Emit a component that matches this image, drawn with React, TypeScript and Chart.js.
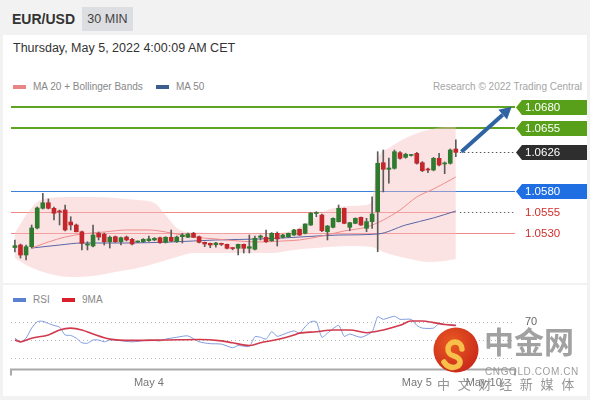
import React, { useEffect, useRef } from 'react';
import { Chart, registerables } from 'chart.js';

Chart.register(...registerables);

// ---------------- data (30-min EUR/USD candles, index 0..79) ----------------
const opens = [
  1.05127, 1.05157, 1.05038, 1.05137, 1.0536, 1.05594, 1.0566, 1.05594, 1.05562, 1.05574,
  1.05431, 1.05395, 1.05315, 1.05157, 1.05145, 1.05296, 1.05285, 1.05196, 1.05256, 1.05196,
  1.05252, 1.05225, 1.05193, 1.05196, 1.05208, 1.05217, 1.05244, 1.05189, 1.05249, 1.05196,
  1.05256, 1.05249, 1.05296, 1.05256, 1.05189, 1.05177, 1.0516, 1.05177, 1.05165, 1.05121,
  1.05118, 1.05165, 1.05118, 1.05106, 1.05249, 1.05249, 1.05208, 1.05296, 1.05249, 1.05256,
  1.05276, 1.05344, 1.05296, 1.05395, 1.05532, 1.05514, 1.05315, 1.05368, 1.05435, 1.05594,
  1.05368, 1.05415, 1.05487, 1.05356, 1.05435, 1.05554, 1.06137, 1.06058, 1.0607, 1.06256,
  1.06201, 1.06223, 1.06248, 1.06137, 1.06062, 1.0605, 1.06189, 1.06122, 1.0613, 1.063,
];
const highs = [
  1.05217, 1.05169, 1.05157, 1.05395, 1.0561, 1.05772, 1.05705, 1.0561, 1.05574, 1.05633,
  1.05494, 1.05407, 1.05324, 1.05196, 1.05395, 1.05312, 1.053, 1.05264, 1.05264, 1.05252,
  1.05264, 1.05237, 1.05205, 1.05233, 1.05264, 1.05245, 1.05252, 1.05256, 1.05336, 1.05264,
  1.05296, 1.053, 1.05308, 1.05264, 1.05193, 1.05181, 1.0519, 1.0518, 1.05169, 1.05125,
  1.05169, 1.05169, 1.05276, 1.05264, 1.05276, 1.05336, 1.05305, 1.05312, 1.05285, 1.053,
  1.05345, 1.05348, 1.0541, 1.05545, 1.05554, 1.05525, 1.0539, 1.0548, 1.05633, 1.05598,
  1.05427, 1.0548, 1.0549, 1.05475, 1.05732, 1.06268, 1.06288, 1.06193, 1.06288, 1.0627,
  1.0625, 1.06235, 1.0626, 1.0615, 1.06074, 1.062, 1.06248, 1.06146, 1.063, 1.06408,
];
const lows = [
  1.05074, 1.05002, 1.04979, 1.05121, 1.05348, 1.05586, 1.05586, 1.05455, 1.05395, 1.05324,
  1.05336, 1.05312, 1.05098, 1.05098, 1.05133, 1.05217, 1.05157, 1.05121, 1.05188, 1.05157,
  1.05205, 1.05157, 1.05187, 1.05188, 1.052, 1.05208, 1.05177, 1.05181, 1.05196, 1.05188,
  1.05181, 1.05245, 1.05245, 1.05181, 1.05137, 1.05125, 1.0513, 1.0515, 1.0511, 1.051,
  1.05038, 1.05062, 1.05062, 1.051, 1.05217, 1.05188, 1.052, 1.05145, 1.0524, 1.0525,
  1.0527, 1.0527, 1.0529, 1.0539, 1.05494, 1.05315, 1.05217, 1.0536, 1.0543, 1.0541,
  1.05327, 1.0541, 1.0539, 1.05315, 1.05356, 1.05077, 1.05789, 1.05892, 1.0606, 1.0618,
  1.0619, 1.06215, 1.0612, 1.0603, 1.06018, 1.0604, 1.061, 1.06006, 1.0612, 1.06208,
];
const closes = [
  1.05149, 1.05038, 1.05137, 1.0536, 1.05598, 1.0566, 1.05594, 1.05535, 1.0555, 1.05336,
  1.05395, 1.05315, 1.05177, 1.05169, 1.05276, 1.05252, 1.05196, 1.05249, 1.05196, 1.05244,
  1.05217, 1.05169, 1.05199, 1.05225, 1.05229, 1.05237, 1.05185, 1.05249, 1.05205, 1.05252,
  1.05276, 1.05288, 1.05249, 1.05189, 1.05169, 1.05157, 1.0518, 1.05165, 1.05118, 1.05115,
  1.05165, 1.05118, 1.05137, 1.05237, 1.05264, 1.05196, 1.05296, 1.05229, 1.05276, 1.05296,
  1.05336, 1.05276, 1.05407, 1.05535, 1.05542, 1.05327, 1.05383, 1.05475, 1.05594, 1.05415,
  1.05423, 1.05475, 1.05395, 1.05435, 1.05526, 1.0613, 1.06058, 1.06074, 1.06268, 1.06189,
  1.06237, 1.06229, 1.0613, 1.06042, 1.0605, 1.06189, 1.0611, 1.0613, 1.06288, 1.0626,
];

const ma20Idx = [3, 6, 9, 12, 16, 20, 24, 28, 32, 36, 40, 44, 48, 51, 55, 59, 63, 66, 69, 72, 75, 79];
const ma20Vals = [1.05121, 1.05193, 1.05252, 1.05288, 1.05312, 1.05336, 1.05336, 1.053, 1.05252, 1.05229, 1.05205, 1.05193, 1.05205, 1.05217, 1.05264, 1.05324, 1.05371, 1.05455, 1.05574, 1.05729, 1.05824, 1.05967];

const ma50Idx = [3, 8, 12, 20, 28, 36, 44, 51, 58, 65, 70, 75, 79];
const ma50Vals = [1.05121, 1.05157, 1.05181, 1.05181, 1.05193, 1.05217, 1.05229, 1.05252, 1.05276, 1.05288, 1.05395, 1.05479, 1.05562];

const bandUpIdx = [0, 2, 4, 6, 10, 14, 18, 22, 25, 27, 29, 31, 40, 46, 50, 53, 56, 60, 63, 64, 65, 67, 70, 74, 77, 79];
const bandUpVals = [1.053, 1.05514, 1.05669, 1.05717, 1.05729, 1.05729, 1.05717, 1.05693, 1.05657, 1.05514, 1.0536, 1.05312, 1.053, 1.053, 1.05336, 1.05455, 1.05574, 1.05621, 1.05633, 1.05693, 1.06171, 1.06312, 1.06431, 1.06526, 1.06562, 1.06562];

const bandLoIdx = [0, 2, 4, 7, 10, 14, 18, 22, 26, 29, 32, 40, 46, 50, 54, 60, 64, 66, 70, 74, 77, 79];
const bandLoVals = [1.05002, 1.04919, 1.0486, 1.048, 1.04776, 1.04788, 1.04836, 1.04883, 1.04955, 1.05014, 1.05062, 1.05062, 1.05062, 1.05098, 1.05121, 1.05145, 1.05133, 1.05074, 1.05002, 1.04955, 1.04967, 1.0499];

const levelValues = [1.068, 1.0655, 1.0626, 1.058, 1.0555, 1.053];
const levelLabels = ['1.0680', '1.0655', '1.0626', '1.0580', '1.0555', '1.0530'];

const arrowFrom = [80, 1.06268];
const arrowTo = [89, 1.06804];

const rsiIdx = [0, 1, 2, 3, 4, 5, 6, 7, 8, 9, 10, 11, 12, 13, 14, 15, 16, 17, 18, 21, 24, 26, 27, 29, 31, 33, 35, 37, 39, 40, 42, 43, 44, 45, 46, 47, 48, 50, 51, 52, 53, 54, 55, 56, 58, 59, 60, 62, 64, 65, 66, 68, 69, 71, 72, 73, 75, 76, 77, 79];
const rsiVals = [52, 48, 52, 63, 70, 70.5, 68, 66, 64, 55.5, 55, 52, 47, 46.5, 50, 50, 48, 50, 50, 48, 50, 49, 51, 53, 54.5, 48, 46, 45.5, 41.5, 44, 43, 53.6, 53, 51, 59, 54, 56, 60, 57.5, 64.5, 70, 70, 53, 57.5, 66, 54, 56.5, 53, 59, 75.5, 72.6, 76, 72.6, 72.6, 66, 63, 63, 68, 67, 66];

const ma9Idx = [0, 1, 3, 6, 8, 10, 12, 14, 17, 21, 27, 33, 37, 39, 42, 44, 47, 50, 51, 54, 57, 60, 63, 66, 69, 71, 73, 75, 77, 79];
const ma9Vals = [50, 48, 52, 55.5, 61, 63, 61, 56.5, 51, 49.6, 50, 50.5, 49, 47, 44, 47, 50.5, 55.5, 57.5, 59, 61, 61, 58, 61, 66, 70.7, 70.7, 69, 67, 66];

const rsiLevels = [70, 50, 30];
const rsiLevelLabels = ['70'];

const dateTicks = [24, 72, 84];
const dateLabels = ['May 4', 'May 5', 'May 10'];

// ---------------- styles ----------------
const X_MIN = -0.7;
const X_MAX = 89.6;
const FONT = '"Liberation Sans", Arial, sans-serif';
const UP = '#2e7b30';
const DOWN = '#c4272b';
const WICK = '#5c5c5c';

type LevelStyle = { line?: string; width?: number; solidToLast?: boolean; dotted?: string; box?: string; text: string };
const levelStyles: LevelStyle[] = [
  { line: '#5ea322', width: 2, box: '#58a01a', text: '#ffffff' },
  { line: '#5ea322', width: 2, box: '#58a01a', text: '#ffffff' },
  { dotted: '#555555', box: '#2e2e2e', text: '#ffffff' },
  { line: '#3a80dc', width: 1, box: '#1f6fe3', text: '#ffffff' },
  { line: '#f08a8a', width: 1, solidToLast: true, dotted: '#666666', text: '#d0302c' },
  { line: '#f08a8a', width: 1, text: '#d0302c' },
];

const pts = (xs: number[], ys: number[]) => xs.map((x, i) => ({ x, y: ys[i] }));

const levelPlugin = {
  id: 'levels',
  beforeDatasetsDraw(chart: any) {
    const { ctx, chartArea: ca, scales } = chart;
    const x = scales.x;
    const y = scales.y;
    const lastX = x.getPixelForValue(opens.length - 1);
    ctx.save();
    levelValues.forEach((v, i) => {
      const st = levelStyles[i];
      const w = st.width || 1;
      const py = Math.round(y.getPixelForValue(v)) + (w % 2 ? 0.5 : 0);
      if (st.line) {
        ctx.setLineDash([]);
        ctx.strokeStyle = st.line;
        ctx.lineWidth = w;
        ctx.beginPath();
        ctx.moveTo(ca.left, py);
        ctx.lineTo(st.solidToLast ? lastX : ca.right, py);
        ctx.stroke();
      }
    });
    ctx.restore();
  },
  afterDraw(chart: any) {
    const { ctx, chartArea: ca, scales } = chart;
    const x = scales.x;
    const y = scales.y;
    const lastX = x.getPixelForValue(opens.length - 1);
    ctx.save();
    levelValues.forEach((v, i) => {
      const st = levelStyles[i];
      const py = Math.round(y.getPixelForValue(v)) + 0.5;
      if (st.dotted) {
        ctx.strokeStyle = st.dotted;
        ctx.lineWidth = 1;
        ctx.setLineDash([1.5, 2.5]);
        ctx.beginPath();
        ctx.moveTo(lastX + 4, py);
        ctx.lineTo(ca.right, py);
        ctx.stroke();
        ctx.setLineDash([]);
      }
      const bx = ca.right;
      if (st.box) {
        ctx.fillStyle = st.box;
        ctx.beginPath();
        ctx.moveTo(bx + 1, py);
        ctx.lineTo(bx + 7, py - 7.5);
        ctx.lineTo(bx + 72, py - 7.5);
        ctx.lineTo(bx + 72, py + 7.5);
        ctx.lineTo(bx + 7, py + 7.5);
        ctx.closePath();
        ctx.fill();
      }
      ctx.fillStyle = st.text;
      ctx.font = '11.5px ' + FONT;
      ctx.textAlign = 'left';
      ctx.textBaseline = 'middle';
      ctx.fillText(levelLabels[i], bx + 10, py + 0.5);
    });
    // trend arrow
    const x0 = x.getPixelForValue(arrowFrom[0]);
    const y0 = y.getPixelForValue(arrowFrom[1]);
    const x1 = x.getPixelForValue(arrowTo[0]);
    const y1 = y.getPixelForValue(arrowTo[1]);
    const ang = Math.atan2(y1 - y0, x1 - x0);
    const head = 12;
    const hw = 6.5;
    const bxp = x1 - head * Math.cos(ang);
    const byp = y1 - head * Math.sin(ang);
    ctx.strokeStyle = '#2f63a3';
    ctx.fillStyle = '#2f63a3';
    ctx.lineWidth = 4;
    ctx.lineCap = 'butt';
    ctx.beginPath();
    ctx.moveTo(x0, y0);
    ctx.lineTo(bxp, byp);
    ctx.stroke();
    ctx.beginPath();
    ctx.moveTo(x1, y1);
    ctx.lineTo(bxp + hw * Math.sin(ang), byp - hw * Math.cos(ang));
    ctx.lineTo(bxp - hw * Math.sin(ang), byp + hw * Math.cos(ang));
    ctx.closePath();
    ctx.fill();
    ctx.restore();
  },
};

const rsiPlugin = {
  id: 'rsiDecor',
  beforeDatasetsDraw(chart: any) {
    const { ctx, chartArea: ca, scales } = chart;
    ctx.save();
    ctx.strokeStyle = '#b8b8b8';
    ctx.lineWidth = 1;
    ctx.setLineDash([1, 3]);
    rsiLevels.forEach((v) => {
      const py = Math.round(scales.y.getPixelForValue(v)) + 0.5;
      ctx.beginPath();
      ctx.moveTo(ca.left, py);
      ctx.lineTo(ca.right, py);
      ctx.stroke();
    });
    ctx.restore();
  },
  afterDraw(chart: any) {
    const { ctx, chartArea: ca, scales } = chart;
    ctx.save();
    ctx.font = '11px ' + FONT;
    ctx.fillStyle = '#666666';
    ctx.textAlign = 'left';
    ctx.textBaseline = 'middle';
    rsiLevelLabels.forEach((t, i) => {
      ctx.fillText(t, ca.right + 10, scales.y.getPixelForValue(rsiLevels[i]));
    });
    // x axis
    ctx.strokeStyle = '#aaaaaa';
    ctx.lineWidth = 2;
    const ay = ca.bottom + 0.5;
    ctx.beginPath();
    ctx.moveTo(ca.left, ay + 6);
    ctx.lineTo(ca.left, ay);
    ctx.lineTo(ca.right, ay);
    ctx.lineTo(ca.right, ay + 6);
    ctx.stroke();
    ctx.fillStyle = '#777777';
    ctx.textAlign = 'center';
    dateTicks.forEach((t, i) => {
      ctx.fillText(dateLabels[i], scales.x.getPixelForValue(t), ca.bottom + 14);
    });
    ctx.restore();
  },
};

export default function App() {
  const mainRef = useRef<HTMLCanvasElement>(null);
  const rsiRef = useRef<HTMLCanvasElement>(null);

  useEffect(() => {
    const idx = opens.map((_, i) => i);
    const main = new Chart(mainRef.current as HTMLCanvasElement, {
      type: 'bar',
      data: {
        datasets: [
          {
            type: 'bar',
            label: 'body',
            data: idx.map((i) => ({ x: i, y: [opens[i], closes[i]] })) as any,
            backgroundColor: idx.map((i) => (closes[i] >= opens[i] ? UP : DOWN)),
            borderWidth: 0,
            barThickness: 4,
            minBarLength: 1,
            grouped: false,
            order: 1,
          } as any,
          {
            type: 'bar',
            label: 'wick',
            data: idx.map((i) => ({ x: i, y: [lows[i], highs[i]] })) as any,
            backgroundColor: WICK,
            borderWidth: 0,
            barThickness: 1,
            grouped: false,
            order: 2,
          } as any,
          {
            type: 'line',
            label: 'MA 20',
            data: pts(ma20Idx, ma20Vals),
            borderColor: '#ef8b8b',
            borderWidth: 1,
            pointRadius: 0,
            cubicInterpolationMode: 'monotone',
            fill: false,
            order: 3,
          } as any,
          {
            type: 'line',
            label: 'MA 50',
            data: pts(ma50Idx, ma50Vals),
            borderColor: '#5865a6',
            borderWidth: 1,
            pointRadius: 0,
            cubicInterpolationMode: 'monotone',
            fill: false,
            order: 4,
          } as any,
          {
            type: 'line',
            label: 'BB upper',
            data: pts(bandUpIdx, bandUpVals),
            borderWidth: 0,
            borderColor: 'rgba(0,0,0,0)',
            backgroundColor: 'rgba(248,188,188,0.42)',
            pointRadius: 0,
            cubicInterpolationMode: 'monotone',
            fill: '+1',
            order: 10,
          } as any,
          {
            type: 'line',
            label: 'BB lower',
            data: pts(bandLoIdx, bandLoVals),
            borderWidth: 0,
            borderColor: 'rgba(0,0,0,0)',
            pointRadius: 0,
            cubicInterpolationMode: 'monotone',
            fill: false,
            order: 11,
          } as any,
        ],
      },
      options: {
        responsive: false,
        animation: false,
        events: [],
        layout: { padding: { left: 11, right: 75, top: 0, bottom: 0 } },
        plugins: { legend: { display: false }, tooltip: { enabled: false } },
        scales: {
          x: { type: 'linear', min: X_MIN, max: X_MAX, display: false, offset: false },
          y: { type: 'linear', min: 1.047405, max: 1.069429, display: false },
        },
      } as any,
      plugins: [levelPlugin],
    });

    const rsi = new Chart(rsiRef.current as HTMLCanvasElement, {
      type: 'line',
      data: {
        datasets: [
          {
            label: 'RSI',
            data: pts(rsiIdx, rsiVals),
            borderColor: '#7f9be0',
            borderWidth: 1,
            pointRadius: 0,
            tension: 0.2,
            order: 2,
          },
          {
            label: '9MA',
            data: pts(ma9Idx, ma9Vals),
            borderColor: '#d13a4c',
            borderWidth: 1.6,
            pointRadius: 0,
            cubicInterpolationMode: 'monotone',
            order: 1,
          } as any,
        ],
      },
      options: {
        responsive: false,
        animation: false,
        events: [],
        layout: { padding: { left: 11, right: 75, top: 0, bottom: 26 } },
        plugins: { legend: { display: false }, tooltip: { enabled: false } },
        scales: {
          x: { type: 'linear', min: X_MIN, max: X_MAX, display: false },
          y: { type: 'linear', min: 18.31, max: 99.18, display: false },
        },
      } as any,
      plugins: [rsiPlugin],
    });

    return () => {
      main.destroy();
      rsi.destroy();
    };
  }, []);

  const abs = (s: React.CSSProperties): React.CSSProperties => ({ position: 'absolute', ...s });

  return (
    <div style={abs({ left: 0, top: 0, width: 590, height: 400, background: '#f2f2f2', fontFamily: FONT, overflow: 'hidden' })}>
      {/* header */}
      <div style={abs({ left: 12, top: 9, fontSize: 14, fontWeight: 'bold', color: '#333', lineHeight: '20px' })}>EUR/USD</div>
      <div style={abs({ left: 82, top: 7, width: 51, height: 24, background: '#dcdee1', color: '#444', fontSize: 12.5, lineHeight: '24px', textAlign: 'center' })}>30 MIN</div>

      {/* cards */}
      <div style={abs({ left: 3, top: 35, width: 584, height: 248, background: '#ffffff' })} />
      <div style={abs({ left: 3, top: 285, width: 584, height: 111, background: '#ffffff' })} />

      <div style={abs({ left: 13, top: 39, fontSize: 12.5, color: '#333', lineHeight: '18px' })}>Thursday, May 5, 2022 4:00:09 AM CET</div>

      {/* main legend */}
      <div style={abs({ left: 13, top: 85, width: 13, height: 4, background: '#ea8585' })} />
      <div style={abs({ left: 33, top: 80, fontSize: 10, color: '#888', lineHeight: '13px' })}>MA 20 + Bollinger Bands</div>
      <div style={abs({ left: 156, top: 85, width: 13, height: 4, background: '#3b5e8f' })} />
      <div style={abs({ left: 176, top: 80, fontSize: 10, color: '#888', lineHeight: '13px' })}>MA 50</div>
      <div style={abs({ right: 8, top: 80, fontSize: 10, color: '#a5a5a5', lineHeight: '13px' })}>Research © 2022 Trading Central</div>

      <canvas ref={mainRef} width={590} height={185} style={abs({ left: 0, top: 95, width: 590, height: 185, display: 'block' })} />

      {/* RSI legend */}
      <div style={abs({ left: 13, top: 298, width: 13, height: 4, background: '#5b82d0' })} />
      <div style={abs({ left: 33, top: 293, fontSize: 10, color: '#888', lineHeight: '13px' })}>RSI</div>
      <div style={abs({ left: 62, top: 298, width: 13, height: 4, background: '#d9202a' })} />
      <div style={abs({ left: 82, top: 293, fontSize: 10, color: '#888', lineHeight: '13px' })}>9MA</div>

      <canvas ref={rsiRef} width={590} height={100} style={abs({ left: 0, top: 295, width: 590, height: 100, display: 'block' })} />

      {/* watermark */}
      <svg width={46} height={46} viewBox="0 0 46 46" style={abs({ left: 433, top: 327 })}>
        <defs>
          <radialGradient id="wmg" cx="40%" cy="35%" r="70%">
            <stop offset="0%" stopColor="#ea5a22" />
            <stop offset="100%" stopColor="#c8281a" />
          </radialGradient>
        </defs>
        <circle cx={23} cy={23} r={22.5} fill="url(#wmg)" />
        <path d="M 29 22 A 7 7 0 1 0 21 29 C 27 31 29 35 25 39 C 20 42 14 40 11 35" fill="none" stroke="#f6c04a" strokeWidth={5.5} strokeLinecap="round" />
      </svg>
      <div style={abs({ left: 484, top: 324, fontSize: 30, fontWeight: 'bold', color: 'rgba(130,130,130,0.75)', lineHeight: '32px', fontFamily: '"Noto Sans CJK SC", sans-serif' })}>中金网</div>
      <div style={abs({ left: 485, top: 366, fontSize: 10, color: 'rgba(140,140,140,0.85)', lineHeight: '11px', letterSpacing: 0.6 })}>CNGOLD.COM.CN</div>
      <div style={abs({ left: 437, top: 376, fontSize: 13, color: 'rgba(130,130,130,0.85)', lineHeight: '15px', letterSpacing: 2.4, fontFamily: '"Noto Sans CJK SC", sans-serif' })}>中 文 财 经 新 媒 体</div>
    </div>
  );
}
